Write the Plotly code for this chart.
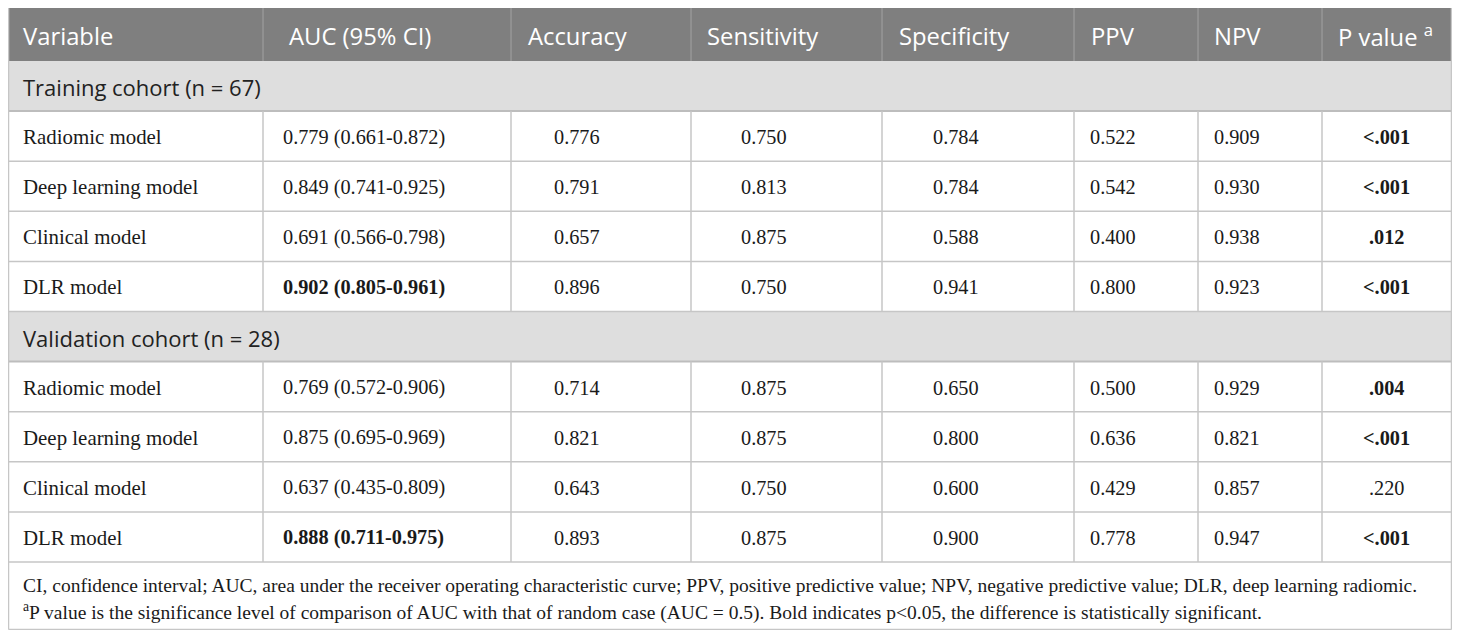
import plotly.graph_objects as go

# ---- table data ----
header = ["Variable", "AUC (95% CI)", "Accuracy", "Sensitivity", "Specificity",
          "PPV", "NPV", "P value <sup>a</sup>"]

models = ["Radiomic model", "Deep learning model", "Clinical model", "DLR model"]

train_label = "Training cohort (n = 67)"
train_auc = ["0.779 (0.661-0.872)", "0.849 (0.741-0.925)", "0.691 (0.566-0.798)", "0.902 (0.805-0.961)"]
train_acc = ["0.776", "0.791", "0.657", "0.896"]
train_sen = ["0.750", "0.813", "0.875", "0.750"]
train_spe = ["0.784", "0.784", "0.588", "0.941"]
train_ppv = ["0.522", "0.542", "0.400", "0.800"]
train_npv = ["0.909", "0.930", "0.938", "0.923"]
train_p = ["<.001", "<.001", ".012", "<.001"]

valid_label = "Validation cohort (n = 28)"
valid_auc = ["0.769 (0.572-0.906)", "0.875 (0.695-0.969)", "0.637 (0.435-0.809)", "0.888 (0.711-0.975)"]
valid_acc = ["0.714", "0.821", "0.643", "0.893"]
valid_sen = ["0.875", "0.875", "0.750", "0.875"]
valid_spe = ["0.650", "0.800", "0.600", "0.900"]
valid_ppv = ["0.500", "0.636", "0.429", "0.778"]
valid_npv = ["0.929", "0.821", "0.857", "0.947"]
valid_p = [".004", "<.001", ".220", "<.001"]

# bold = best AUC / significant p value
bold_auc = [False, False, False, True]
train_p_bold = [True, True, True, True]
valid_p_bold = [True, True, False, True]

footnotes = [
    "CI, confidence interval; AUC, area under the receiver operating characteristic curve; "
    "PPV, positive predictive value; NPV, negative predictive value; DLR, deep learning radiomic.",
    "<sup>a</sup>P value is the significance level of comparison of AUC with that of random case "
    "(AUC = 0.5). Bold indicates p<0.05, the difference is statistically significant.",
]

# ---- layout (pixel grid of the 1460x638 page) ----
# the page body has an 8px margin, so the figure covers 8..1452 x 8..630
PAGE_W, PAGE_H, BODY = 1460, 638, 8
col_edges = [8.5, 263, 511, 691, 882, 1074, 1198, 1322, 1451.5]
head_x = [22, 288, 527, 706, 898, 1090, 1213, 1337]
cell_x = [22, 282, 553, 740, 932, 1089, 1213, None]   # None -> centred
top, head_bottom, row_h = 8, 61, 50.1
foot_bottom = 629.5

HEAD_FILL = "#7f7f7f"
GROUP_FILL = "#dedede"
LINE = "#c6c6c6"
SANS = "Open Sans"
SERIF = "Liberation Serif"

fig = go.Figure()
fig.add_trace(go.Scatter(x=[BODY, PAGE_W - BODY], y=[BODY, PAGE_H - BODY], mode="markers",
                         marker=dict(opacity=0), hoverinfo="skip", showlegend=False))

shapes = []
annotations = []


def rect(x0, y0, x1, y1, fill):
    shapes.append(dict(type="rect", xref="x", yref="y", x0=x0, x1=x1, y0=y0, y1=y1,
                       fillcolor=fill, line=dict(width=0), layer="below"))


def hline(y, color=LINE, w=1.5):
    shapes.append(dict(type="line", xref="x", yref="y", x0=col_edges[0], x1=col_edges[-1],
                       y0=y, y1=y, line=dict(color=color, width=w)))


def vline(x, y0, y1, color=LINE, w=1.5):
    shapes.append(dict(type="line", xref="x", yref="y", x0=x, x1=x, y0=y0, y1=y1,
                       line=dict(color=color, width=w)))


def text(x, y, s, font, size, color, anchor="left", bold=False):
    annotations.append(dict(x=x, y=y, xref="x", yref="y", text=f"<b>{s}</b>" if bold else s,
                            showarrow=False, xanchor=anchor, yanchor="middle",
                            font=dict(family=font, size=size, color=color), borderpad=0))


# header
rect(col_edges[0], top, col_edges[-1], head_bottom, HEAD_FILL)
for i, h in enumerate(header):
    text(head_x[i], (top + head_bottom) / 2 + 1, h, SANS, 23.8, "white")
for x in col_edges[1:-1]:
    vline(x, top, head_bottom, color="#a3a3a3", w=1)

groups = [
    (train_label, [train_auc, train_acc, train_sen, train_spe, train_ppv, train_npv, train_p], train_p_bold),
    (valid_label, [valid_auc, valid_acc, valid_sen, valid_spe, valid_ppv, valid_npv, valid_p], valid_p_bold),
]

y = head_bottom
for label, cols, p_bold in groups:
    # group band
    rect(col_edges[0], y, col_edges[-1], y + row_h, GROUP_FILL)
    text(22, y + row_h / 2 + 1, label, SANS, 22, "#222222")
    hline(y + row_h, color="#bdbdbd", w=2)
    y += row_h
    y_block = y
    for r, name in enumerate(models):
        cy = y + row_h / 2 + 1
        row_vals = [name] + [c[r] for c in cols]
        for c, v in enumerate(row_vals):
            bold = (c == 1 and bold_auc[r]) or (c == 7 and p_bold[r])
            size = 20.9 if c == 0 else 20.3
            if cell_x[c] is None:
                text((col_edges[c] + col_edges[c + 1]) / 2, cy, v, SERIF, size, "#1a1a1a",
                     anchor="center", bold=bold)
            else:
                text(cell_x[c], cy, v, SERIF, size, "#1a1a1a", bold=bold)
        y += row_h
        hline(y)
    for x in col_edges[1:-1]:
        vline(x, y_block, y)

# footer
text(22, y + 23, footnotes[0], SERIF, 19.5, "#1a1a1a")
text(22, y + 49, footnotes[1], SERIF, 19.5, "#1a1a1a")

# outer border
vline(col_edges[0], top, foot_bottom)
vline(col_edges[-1], top, foot_bottom)
hline(foot_bottom)

fig.update_layout(
    width=PAGE_W - 2 * BODY, height=PAGE_H - 2 * BODY,
    margin=dict(l=0, r=0, t=0, b=0),
    paper_bgcolor="white", plot_bgcolor="white",
    xaxis=dict(range=[BODY, PAGE_W - BODY], visible=False, fixedrange=True),
    yaxis=dict(range=[PAGE_H - BODY, BODY], visible=False, fixedrange=True),
    shapes=shapes, annotations=annotations,
    showlegend=False,
)

fig.write_html("out.html")
